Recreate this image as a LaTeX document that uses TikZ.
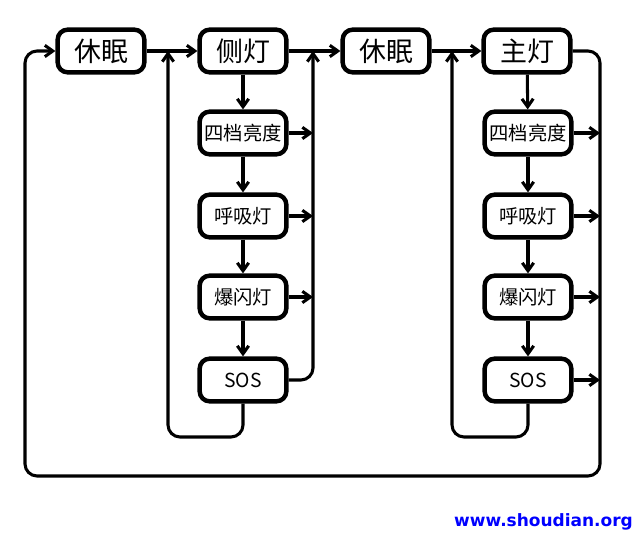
\documentclass[tikz,border=0pt]{standalone}
\usepackage{fontspec}
\setmainfont{Noto Sans CJK SC}
\newfontfamily\webfont{DejaVu Sans}
\usetikzlibrary{arrows.meta}
\definecolor{webblau}{RGB}{0,0,255}

\begin{document}
\begin{tikzpicture}[x=0.03cm, y=-0.03cm,
    >={Straight Barb[length=0.24cm, width=0.34cm]},
    kasten/.style={draw, line width=3.8pt, rounded corners=0.3cm,
      minimum width=2.6cm, minimum height=1.28cm, inner sep=0pt},
    haupt/.style={kasten, font=\fontsize{23}{23}\selectfont},
    unter/.style={kasten, font=\fontsize{16.5}{16.5}\selectfont},
    pfeil/.style={->, line width=2.6pt},
    linie/.style={line width=2.6pt, rounded corners=0.36cm}]
    \useasboundingbox (0,0) rectangle (640,537);
    % obere Reihe:
    \node[haupt] (ruhe1) at (101,51) {休眠};
    \node[haupt] (seite) at (243,51) {侧灯};
    \node[haupt] (ruhe2) at (386,51) {休眠};
    \node[haupt] (hauptlicht) at (527,51) {主灯};
    % Gruppe Seitenlicht:
    \node[unter] (s1) at (243,133) {四档亮度};
    \node[unter] (s2) at (243,216) {呼吸灯};
    \node[unter] (s3) at (243,297) {爆闪灯};
    \node[unter] (s4) at (243,380) {SOS};
    % Gruppe Hauptlicht:
    \node[unter] (h1) at (528,133) {四档亮度};
    \node[unter] (h2) at (528,216) {呼吸灯};
    \node[unter] (h3) at (528,297) {爆闪灯};
    \node[unter] (h4) at (528,380) {SOS};
    % Eckpunkte der Leitungen:
    \coordinate (l1) at (168,51); % links Gruppe 1
    \coordinate (u1) at (168,437);
    \coordinate (r1) at (313,51); % rechts Gruppe 1
    \coordinate (l2) at (452,51); % links Gruppe 2
    \coordinate (u2) at (452,437);
    \coordinate (ra) at (600,476); % aeusserer Ring
    \coordinate (la) at (25,476);
\draw[pfeil] (ruhe1) -- (seite);
\draw[pfeil] (seite) -- (ruhe2);
\draw[pfeil] (ruhe2) -- (hauptlicht);
    % abwaerts:
\draw[pfeil] (seite) -- (s1);
\draw[pfeil] (s1) -- (s2);
\draw[pfeil] (s2) -- (s3);
\draw[pfeil] (s3) -- (s4);
\draw[pfeil] (hauptlicht) -- (h1);
\draw[pfeil] (h1) -- (h2);
\draw[pfeil] (h2) -- (h3);
\draw[pfeil] (h3) -- (h4);
    % nach rechts:
\draw[pfeil] (s1) -- (s1 -| r1);
\draw[pfeil] (s2) -- (s2 -| r1);
\draw[pfeil] (s3) -- (s3 -| r1);
\draw[pfeil, linie] (s4) -| (r1);
\draw[pfeil] (h1) -- (h1 -| ra);
\draw[pfeil] (h2) -- (h2 -| ra);
\draw[pfeil] (h3) -- (h3 -| ra);
\draw[pfeil] (h4) -- (h4 -| ra);
    % Rueckfuehrungen:
\draw[pfeil, linie] (s4) |- (u1) -- (l1);
\draw[pfeil, linie] (h4) |- (u2) -- (l2);
\draw[pfeil, linie] (hauptlicht) -| (ra) -- (la) |- (ruhe1);
    % Wasserzeichen:
    \node[text=webblau, anchor=east, font=\webfont\bfseries\fontsize{14.5}{14.5}\selectfont] (web) at (637,522) {www.shoudian.org};
\end{tikzpicture}
\end{document}
